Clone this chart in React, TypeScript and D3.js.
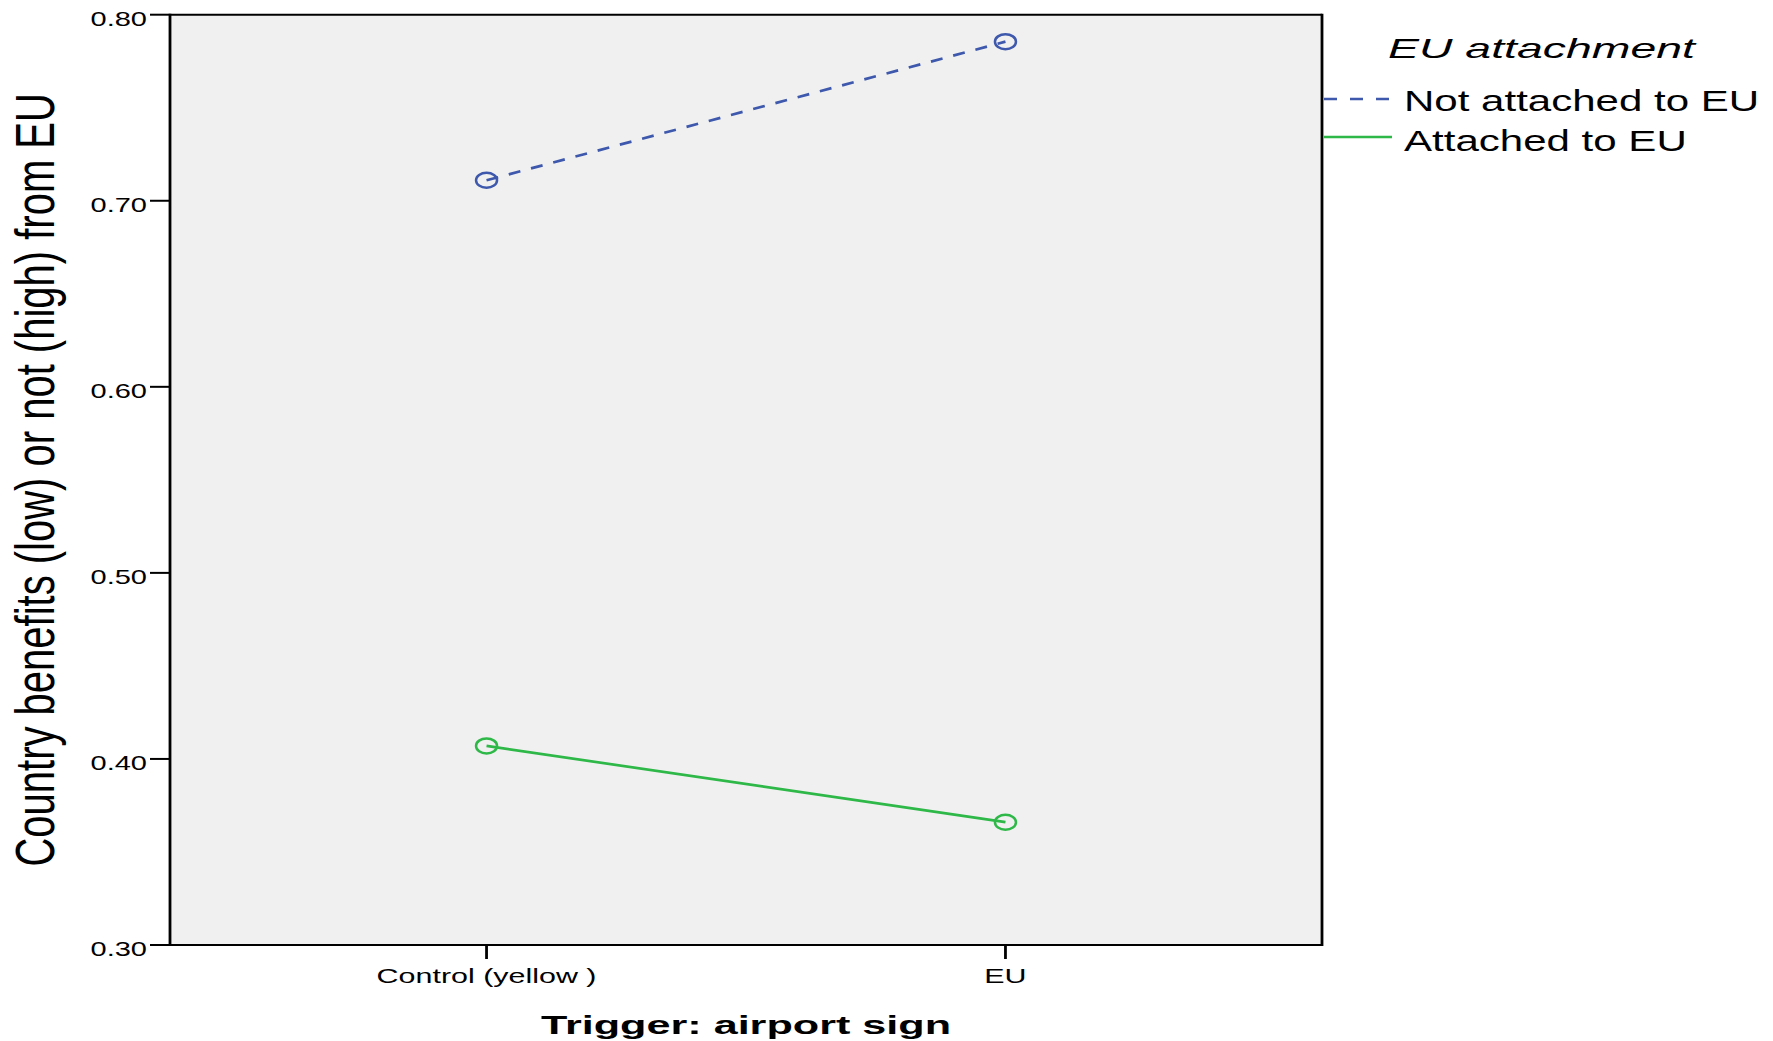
import React from "react";
import * as d3 from "d3";

const categories = ["Control (yellow )", "EU"];
const notAttached = [0.711, 0.7855];
const attached = [0.407, 0.366];
const yTicks = [0.3, 0.4, 0.5, 0.6, 0.7, 0.8];
const seriesNames = ["Not attached to EU", "Attached to EU"];
const legendTitle = "EU attachment";
const xTitle = "Trigger: airport sign";
const yTitle = "Country benefits (low) or not (high) from EU";

const W = 1773;
const H = 1041;
const SX = 1.45;
const FONT = "'Liberation Sans', Arial, Helvetica, sans-serif";
const BLUE = "#3d58ac";
const GREEN = "#2eb848";

export default function App() {
  const left = 170;
  const right = 1322;
  const top = 14.7;
  const bottom = 945;

  const x = d3.scalePoint<string>().domain(categories).range([left, right]).padding(0.61);
  const y = d3.scaleLinear().domain([0.3, 0.8]).range([bottom, top]);
  const fmt = d3.format(".2f");

  const line = d3
    .line<number>()
    .x((_, i) => x(categories[i]) as number)
    .y((d) => y(d));

  const series = [
    { name: seriesNames[0], values: notAttached, color: BLUE, dash: "12,11" },
    { name: seriesNames[1], values: attached, color: GREEN, dash: undefined as string | undefined },
  ];

  return (
    <svg
      width={W}
      height={H}
      style={{ position: "absolute", left: 0, top: 0, background: "#fff" }}
      fontFamily={FONT}
    >
      <rect x={left} y={top} width={right - left} height={bottom - top} fill="#f0f0f0" />
      <line x1={left} x2={right} y1={top} y2={top} stroke="#000" strokeWidth={2} />
      <line x1={left} x2={right} y1={bottom} y2={bottom} stroke="#000" strokeWidth={2} />
      <line x1={left} x2={left} y1={top - 1} y2={bottom + 1} stroke="#000" strokeWidth={2.8} />
      <line x1={right} x2={right} y1={top - 1} y2={bottom + 1} stroke="#000" strokeWidth={2.8} />

      {yTicks.map((t) => (
        <g key={t}>
          <line x1={left - 20} x2={left} y1={y(t)} y2={y(t)} stroke="#000" strokeWidth={2} />
          <text
            transform={`translate(${left - 23},${y(t) + 11}) scale(${SX},1)`}
            textAnchor="end"
            fontSize={20}
            fill="#000"
          >
            {fmt(t)}
          </text>
        </g>
      ))}

      {categories.map((c) => (
        <g key={c}>
          <line
            x1={x(c) as number}
            x2={x(c) as number}
            y1={bottom}
            y2={bottom + 14}
            stroke="#000"
            strokeWidth={2.8}
          />
          <text
            transform={`translate(${x(c) as number},${bottom + 38}) scale(${SX},1)`}
            textAnchor="middle"
            fontSize={21}
            fill="#000"
          >
            {c}
          </text>
        </g>
      ))}

      {series.map((s) => (
        <g key={s.name}>
          <path
            d={line(s.values) || ""}
            fill="none"
            stroke={s.color}
            strokeWidth={2.7}
            strokeDasharray={s.dash}
          />
          {s.values.map((v, i) => (
            <ellipse
              key={i}
              cx={x(categories[i]) as number}
              cy={y(v)}
              rx={10.5}
              ry={7.5}
              fill="none"
              stroke={s.color}
              strokeWidth={2.5}
            />
          ))}
        </g>
      ))}

      <text
        x={(left + right) / 2}
        y={1034}
        textAnchor="middle"
        fontSize={25}
        fontWeight="bold"
        textLength={410}
        lengthAdjust="spacingAndGlyphs"
        fill="#000"
      >
        {xTitle}
      </text>
      <text
        transform={`translate(54,${(top + bottom) / 2}) rotate(-90) scale(1,1.375)`}
        textAnchor="middle"
        fontSize={40}
        fill="#000"
      >
        {yTitle}
      </text>

      <text
        x={1388}
        y={58}
        fontSize={28}
        fontStyle="italic"
        textLength={307}
        lengthAdjust="spacingAndGlyphs"
        fill="#000"
      >
        {legendTitle}
      </text>
      {series.map((s, i) => {
        const ly = 99 + i * 38;
        return (
          <g key={s.name}>
            <line
              x1={right + 2}
              x2={right + 70}
              y1={ly}
              y2={ly}
              stroke={s.color}
              strokeWidth={2.7}
              strokeDasharray={s.dash ? "13,13" : undefined}
            />
            <text
              transform={`translate(1404,${ly + 12 + i * 2}) scale(${SX},1)`}
              fontSize={29}
              fill="#000"
            >
              {s.name}
            </text>
          </g>
        );
      })}
    </svg>
  );
}
